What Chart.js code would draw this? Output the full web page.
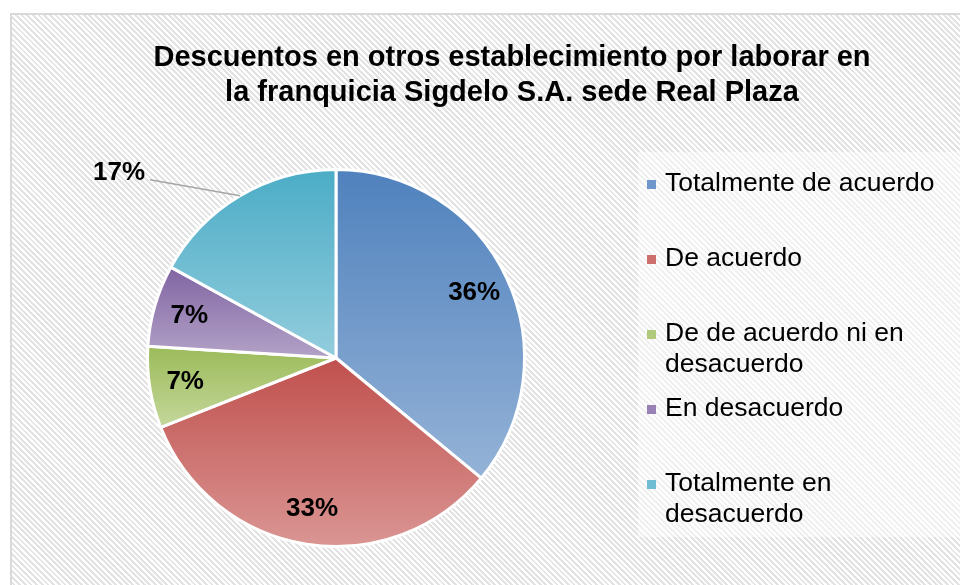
<!DOCTYPE html>
<html>
<head>
<meta charset="utf-8">
<script src="https://cdn.jsdelivr.net/npm/chart.js@4"></script>
<style>
  body { margin: 0; background: #fff; overflow: hidden; }
  #wrap { position: relative; width: 960px; height: 585px; }
  #frame {
    position: absolute; left: 10px; top: 13px; width: 980px; height: 600px;
    border: 2px solid #d9d9d9;
    background: repeating-linear-gradient(45deg, #ffffff 0 2px, #e3e3e3 2px 4px);
  }
  #pie { position: absolute; left: 0; top: 0; }
</style>
</head>
<body>
<div id="wrap">
  <div id="frame"></div>
  <canvas id="pie" width="960" height="585"></canvas>
</div>
<script>
const titleLines = [
  "Descuentos en otros establecimiento por laborar en",
  "la franquicia Sigdelo S.A. sede Real Plaza",
];
const categories = [
  "Totalmente de acuerdo",
  "De acuerdo",
  "De de acuerdo ni en desacuerdo",
  "En desacuerdo",
  "Totalmente en desacuerdo",
];
const shares = [36, 33, 7, 7, 17];
const topColors = ["#4f81bd", "#c0504d", "#9bbb59", "#8064a2", "#4bacc6"];
const bottomColors = ["#95b3d7", "#da9694", "#c4d79b", "#b3a2c7", "#93cddd"];
const markerColors = ["#6f97cb", "#cd706d", "#b0c97a", "#9882b5", "#6fbdd2"];
const outsideLabels = [4];

const FONT = '"Liberation Sans", Arial, sans-serif';

// vertical gradient spanning each slice's own height
function sliceGradient(ctx) {
  const chart = ctx.chart;
  const area = chart.chartArea;
  const i = ctx.dataIndex;
  if (!area) return topColors[i];
  const cx = (area.left + area.right) / 2;
  const cy = (area.top + area.bottom) / 2;
  const r = Math.min(area.width, area.height) / 2;
  const total = shares.reduce((a, b) => a + b, 0);
  let before = 0;
  for (let j = 0; j < i; j++) before += shares[j];
  const a0 = -Math.PI / 2 + 2 * Math.PI * before / total;
  const a1 = a0 + 2 * Math.PI * shares[i] / total;
  const ys = [cy, cy + r * Math.sin(a0), cy + r * Math.sin(a1)];
  if (a0 < Math.PI / 2 && a1 > Math.PI / 2) ys.push(cy + r);
  if (a1 > 3 * Math.PI / 2 - 1e-6) ys.push(cy - r);
  const g = chart.ctx.createLinearGradient(0, Math.min(...ys), 0, Math.max(...ys));
  g.addColorStop(0, topColors[i]);
  g.addColorStop(1, bottomColors[i]);
  return g;
}

function wrapText(c, text, maxWidth) {
  const words = text.split(" ");
  const lines = [];
  let line = "";
  for (const w of words) {
    const test = line ? line + " " + w : w;
    if (line && c.measureText(test).width > maxWidth) {
      lines.push(line);
      line = w;
    } else {
      line = test;
    }
  }
  if (line) lines.push(line);
  return lines;
}

const decorPlugin = {
  id: "decor",
  beforeDraw(chart) {
    const c = chart.ctx;
    c.save();
    c.fillStyle = "rgba(255,255,255,0.45)";
    c.fillRect(638, 152, 322, 385);
    c.restore();
  },
  afterDraw(chart) {
    const c = chart.ctx;
    c.save();
    c.fillStyle = "#000";

    // title
    c.font = "bold 29px " + FONT;
    c.textAlign = "center";
    c.textBaseline = "middle";
    titleLines.forEach((t, k) => c.fillText(t, 512, 58 + k * 35));

    // legend
    c.font = "26.5px " + FONT;
    c.textAlign = "left";
    categories.forEach((name, i) => {
      const y = 184 + i * 75;
      c.fillStyle = markerColors[i];
      c.fillRect(647, y - 4, 9, 9);
      c.fillStyle = "#000";
      wrapText(c, name, 288).forEach((ln, k) => c.fillText(ln, 665, y + k * 31));
    });

    // percentage labels
    const meta = chart.getDatasetMeta(0);
    c.font = "bold 26px " + FONT;
    meta.data.forEach((arc, i) => {
      const p = arc.getProps(["x", "y", "startAngle", "endAngle", "outerRadius"], true);
      const mid = (p.startAngle + p.endAngle) / 2;
      const text = shares[i] + "%";
      if (outsideLabels.includes(i)) {
        const ex = p.x + Math.cos(mid) * p.outerRadius;
        const ey = p.y + Math.sin(mid) * p.outerRadius;
        const lx = ex - 90, ly = ey - 16;
        c.strokeStyle = "#a6a6a6";
        c.lineWidth = 1.5;
        c.beginPath();
        c.moveTo(lx, ly);
        c.lineTo(ex, ey);
        c.stroke();
        c.textAlign = "right";
        c.fillText(text, lx - 5, ly - 7);
      } else {
        const d = p.outerRadius * 0.81;
        c.textAlign = "center";
        c.fillText(text, p.x + Math.cos(mid) * d, p.y + Math.sin(mid) * d);
      }
    });
    c.restore();
  },
};

new Chart(document.getElementById("pie"), {
  type: "pie",
  data: {
    labels: categories,
    datasets: [
      {
        data: shares,
        backgroundColor: sliceGradient,
        borderColor: "#ffffff",
        borderWidth: 3,
      },
    ],
  },
  options: {
    responsive: false,
    animation: false,
    devicePixelRatio: 1,
    layout: { padding: { left: 146, right: 434, top: 168, bottom: 37 } },
    plugins: {
      legend: { display: false },
      title: { display: false },
      tooltip: { enabled: false },
    },
  },
  plugins: [decorPlugin],
});
</script>
</body>
</html>
